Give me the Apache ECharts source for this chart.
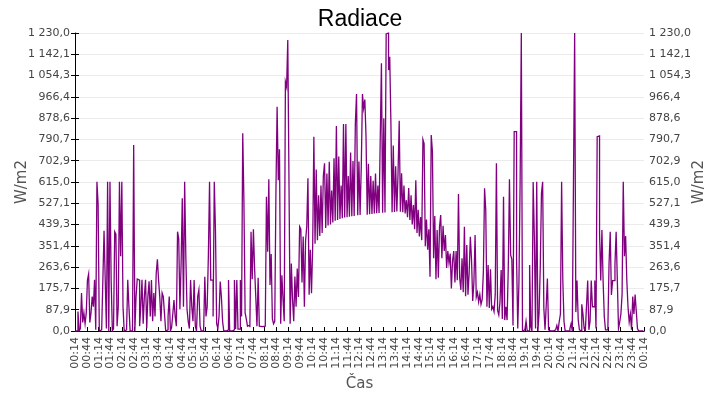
<!DOCTYPE html>
<html>
<head>
<meta charset="utf-8">
<script src="https://cdn.jsdelivr.net/npm/echarts@6/dist/echarts.min.js"></script>
<style>
  html, body { margin: 0; padding: 0; background: #fff; }
  #chart { width: 720px; height: 400px; }
</style>
</head>
<body>
<div id="chart"></div>
<script>
// popisky casove osy po 30 min
var casy = ['00:14', '00:44', '01:14', '01:44', '02:14', '02:44', '03:14', '03:44', '04:14', '04:44',
  '05:14', '05:44', '06:14', '06:44', '07:14', '07:44', '08:14', '08:44', '09:14', '09:44',
  '10:14', '10:44', '11:14', '11:44', '12:14', '12:44', '13:14', '13:44', '14:14', '14:44',
  '15:14', '15:44', '16:14', '16:44', '17:14', '17:44', '18:14', '18:44', '19:14', '19:44',
  '20:14', '20:44', '21:14', '21:44', '22:14', '22:44', '23:14', '23:44', '00:14'];

var krok = 3; // minuty mezi merenimi

// W/m2, jedna hodnota kazde 3 minuty od 00:14
var radiace = [
  0, 5, 0, 80, 0, 10, 157, 35, 75, 30,
  75, 210, 235, 35, 75, 142, 100, 211, 5, 616,
  524, 0, 5, 0, 210, 414, 211, 10, 616, 0,
  616, 208, 0, 10, 410, 400, 20, 100, 616, 309,
  616, 100, 0, 5, 0, 211, 100, 0, 0, 5,
  768, 0, 142, 215, 210, 20, 100, 211, 30, 142,
  211, 10, 142, 205, 60, 210, 40, 157, 60, 237,
  296, 210, 142, 40, 157, 142, 71, 0, 5, 60,
  142, 0, 15, 70, 128, 60, 20, 410, 382, 90,
  276, 548, 100, 616, 309, 90, 40, 10, 210, 100,
  40, 210, 20, 0, 142, 170, 20, 0, 0, 5,
  224, 60, 100, 309, 616, 210, 210, 60, 616, 414,
  30, 10, 60, 204, 140, 40, 0, 0, 0, 5,
  210, 0, 0, 0, 5, 210, 8, 210, 8, 8,
  210, 60, 816, 534, 75, 50, 20, 25, 15, 410,
  214, 420, 259, 140, 20, 220, 20, 18, 18, 20,
  20, 22, 554, 327, 626, 190, 318, 50, 30, 40,
  575, 926, 622, 750, 30, 230, 130, 40, 1029, 1008,
  1201, 622, 30, 279, 130, 40, 225, 100, 258, 140,
  431, 420, 200, 390, 100, 372, 431, 630, 150, 335,
  156, 348, 802, 360, 667, 375, 560, 392, 600, 405,
  640, 692, 425, 650, 435, 699, 440, 580, 448, 713,
  455, 846, 458, 720, 462, 600, 465, 854, 468, 854,
  470, 640, 472, 737, 474, 702, 475, 857, 978, 478,
  700, 479, 680, 978, 919, 955, 802, 480, 690, 482,
  640, 483, 620, 485, 650, 486, 600, 487, 793, 1105,
  488, 878, 489, 1226, 1230, 1077, 1132, 857, 490, 766,
  491, 680, 493, 650, 868, 492, 651, 490, 600, 485,
  540, 470, 590, 458, 560, 440, 520, 420, 622, 405,
  500, 390, 470, 375, 791, 774, 350, 460, 335, 420,
  224, 809, 743, 300, 475, 214, 417, 220, 430, 479,
  300, 434, 330, 396, 260, 330, 280, 320, 176, 290,
  330, 200, 330, 210, 565, 220, 170, 300, 160, 430,
  143, 355, 150, 240, 389, 294, 124, 200, 396, 140,
  160, 120, 150, 110, 130, 245, 589, 499, 100, 272,
  95, 255, 90, 100, 80, 150, 692, 85, 66, 120,
  252, 50, 554, 45, 100, 45, 260, 626, 314, 296,
  23, 823, 823, 300, 10, 200, 615, 1230, 0, 5,
  0, 41, 0, 0, 272, 20, 0, 615, 389, 10,
  616, 0, 78, 264, 568, 616, 96, 5, 103, 217,
  5, 0, 0, 0, 0, 5, 10, 23, 0, 40,
  70, 616, 211, 40, 0, 0, 0, 0, 10, 30,
  0, 616, 1230, 78, 208, 47, 5, 0, 110, 70,
  10, 0, 103, 208, 5, 40, 208, 100, 100, 208,
  10, 802, 805, 403, 208, 417, 208, 60, 5, 5,
  0, 278, 410, 149, 208, 208, 276, 410, 208, 10,
  37, 70, 150, 616, 309, 392, 208, 100, 37, 70,
  5, 142, 70, 150, 80, 10, 0, 0, 0, 0,
  0
];

var yMax = 1230;
var yDilku = 14;

function fmtCislo(v) {
  var s = v.toFixed(1).split('.');
  var cele = s[0].replace(/\B(?=(\d{3})+(?!\d))/g, ' ');
  return cele + ',' + s[1];
}

var chart = echarts.init(document.getElementById('chart'));

var yOsa = function (pos) {
  return {
    type: 'value',
    position: pos,
    min: 0,
    max: yMax,
    interval: yMax / yDilku,
    name: 'W/m2',
    nameLocation: 'middle',
    nameRotate: 90,
    nameMoveOverlap: false,
    nameGap: pos === 'left' ? 45 : 48,
    nameTextStyle: { fontFamily: 'DejaVu Sans', fontSize: 15, color: '#555' },
    axisLine: { show: pos === 'left', lineStyle: { color: '#000' } },
    axisTick: { show: true, length: 4, lineStyle: { color: '#000' } },
    axisLabel: {
      fontFamily: 'DejaVu Sans',
      fontSize: 11,
      color: '#444',
      margin: 5,
      formatter: fmtCislo
    },
    splitLine: { show: pos === 'left', lineStyle: { color: '#ebebeb' } }
  };
};

var option = {
  animation: false,
  title: {
    text: 'Radiace',
    left: 'center',
    top: 3,
    textStyle: { fontFamily: 'Liberation Sans', fontSize: 23, fontWeight: 'normal', color: '#000' }
  },
  grid: { left: 75, right: 76, top: 33, bottom: 69 },
  xAxis: [
    {
      type: 'value',
      min: 0,
      max: 1440,
      interval: 30,
      name: 'Čas',
      nameLocation: 'middle',
      nameGap: 44,
      nameTextStyle: { fontFamily: 'DejaVu Sans', fontSize: 15, color: '#555' },
      axisLine: { lineStyle: { color: '#000' } },
      axisTick: { inside: true, length: 4, lineStyle: { color: '#000' } },
      axisLabel: {
        rotate: 90,
        fontFamily: 'DejaVu Sans',
        fontSize: 11,
        color: '#444',
        margin: 6,
        formatter: function (v) { return casy[Math.round(v / 30)]; }
      },
      splitLine: { show: false }
    },
    {
      type: 'value',
      position: 'top',
      min: 0,
      max: 1440,
      axisLine: { show: true, lineStyle: { color: '#000' } },
      axisTick: { show: false },
      axisLabel: { show: false },
      splitLine: { show: false }
    }
  ],
  yAxis: [yOsa('left'), yOsa('right')],
  series: [
    {
      type: 'line',
      step: 'middle',
      data: radiace.map(function (v, i) { return [i * krok, v]; }),
      showSymbol: false,
      sampling: null,
      lineStyle: { color: '#800080', width: 1.3, join: 'miter' },
      itemStyle: { color: '#800080' },
      z: 1
    }
  ]
};

chart.setOption(option);
</script>
</body>
</html>
